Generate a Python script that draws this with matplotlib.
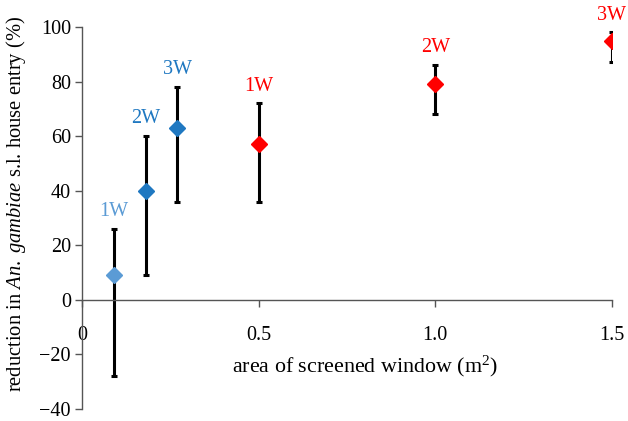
import matplotlib
matplotlib.use("Agg")
import matplotlib.pyplot as plt
import numpy as np

plt.rcParams['font.family'] = ['Liberation Serif', 'DejaVu Serif']
plt.rcParams['mathtext.fontset'] = 'custom'
plt.rcParams['mathtext.rm'] = 'Liberation Serif'
plt.rcParams['mathtext.it'] = 'Liberation Serif:italic'

# data
labels = ['1W', '2W', '3W', '1W', '2W', '3W']
area = [0.09, 0.18, 0.27, 0.5, 1.0, 1.5]
reduction = [9, 40, 63, 57, 79, 95]
upper = [26, 60, 78, 72, 86, 98]
lower = [-28, 9, 36, 36, 68, 87]
colors = ['#5b9bd5', '#1f78c1', '#1f78c1', '#ff0000', '#ff0000', '#ff0000']
xticks = [0, 0.5, 1.0, 1.5]
xticklabels = ['0', '0.5', '1.0', '1.5']
yticks = [-40, -20, 0, 20, 40, 60, 80, 100]

fig = plt.figure(figsize=(6.28, 4.21), dpi=100)
ax = fig.add_axes([82/628, 1-409/421, 530/628, 382/421])

for x, y, u, l, c, lab in zip(area, reduction, upper, lower, colors, labels):
    ax.errorbar([x], [y], yerr=[[y - l], [u - y]], fmt='none', ecolor='black',
                elinewidth=2.2, capsize=2.3, capthick=2.2, zorder=2)
    ax.plot([x], [y], marker='D', markersize=8.5, color=c, linestyle='none', zorder=3)
    ax.annotate(lab, (x, u), xytext=(0, 12.5), textcoords='offset points',
                ha='center', va='center', color=c, fontsize=14.5)

ax.set_xlim(0, 1.5)
ax.set_ylim(-40, 100)
ax.spines['top'].set_visible(False)
ax.spines['right'].set_visible(False)
ax.spines['bottom'].set_position(('data', 0))
for s in ['left', 'bottom']:
    ax.spines[s].set_color('#555555')
    ax.spines[s].set_linewidth(1.0)

ax.set_xticks(xticks)
ax.set_xticklabels(xticklabels)
ax.set_yticks(yticks)
ax.set_yticklabels(['\u221240', '\u221220', '0', '20', '40', '60', '80', '100'])
ax.tick_params(axis='x', direction='out', length=5, width=1, color='#555555',
               pad=14, labelsize=14.5)
ax.tick_params(axis='y', direction='out', length=5, width=1, color='#555555',
               pad=3, labelsize=14.5)
ax.get_xticklabels()[0].set_x(0.008)

fig.text(365/628, 1-366/421, 'area of screened window (m$^2$)', ha='center', va='center',
         fontsize=15.8)
fig.text(16/628, 1-204/421, r'reduction in $\it{An.\ gambiae}$ s.l. house entry (%)',
         ha='center', va='center', rotation=90, fontsize=14.8)

fig.savefig('out.png', dpi=100)
